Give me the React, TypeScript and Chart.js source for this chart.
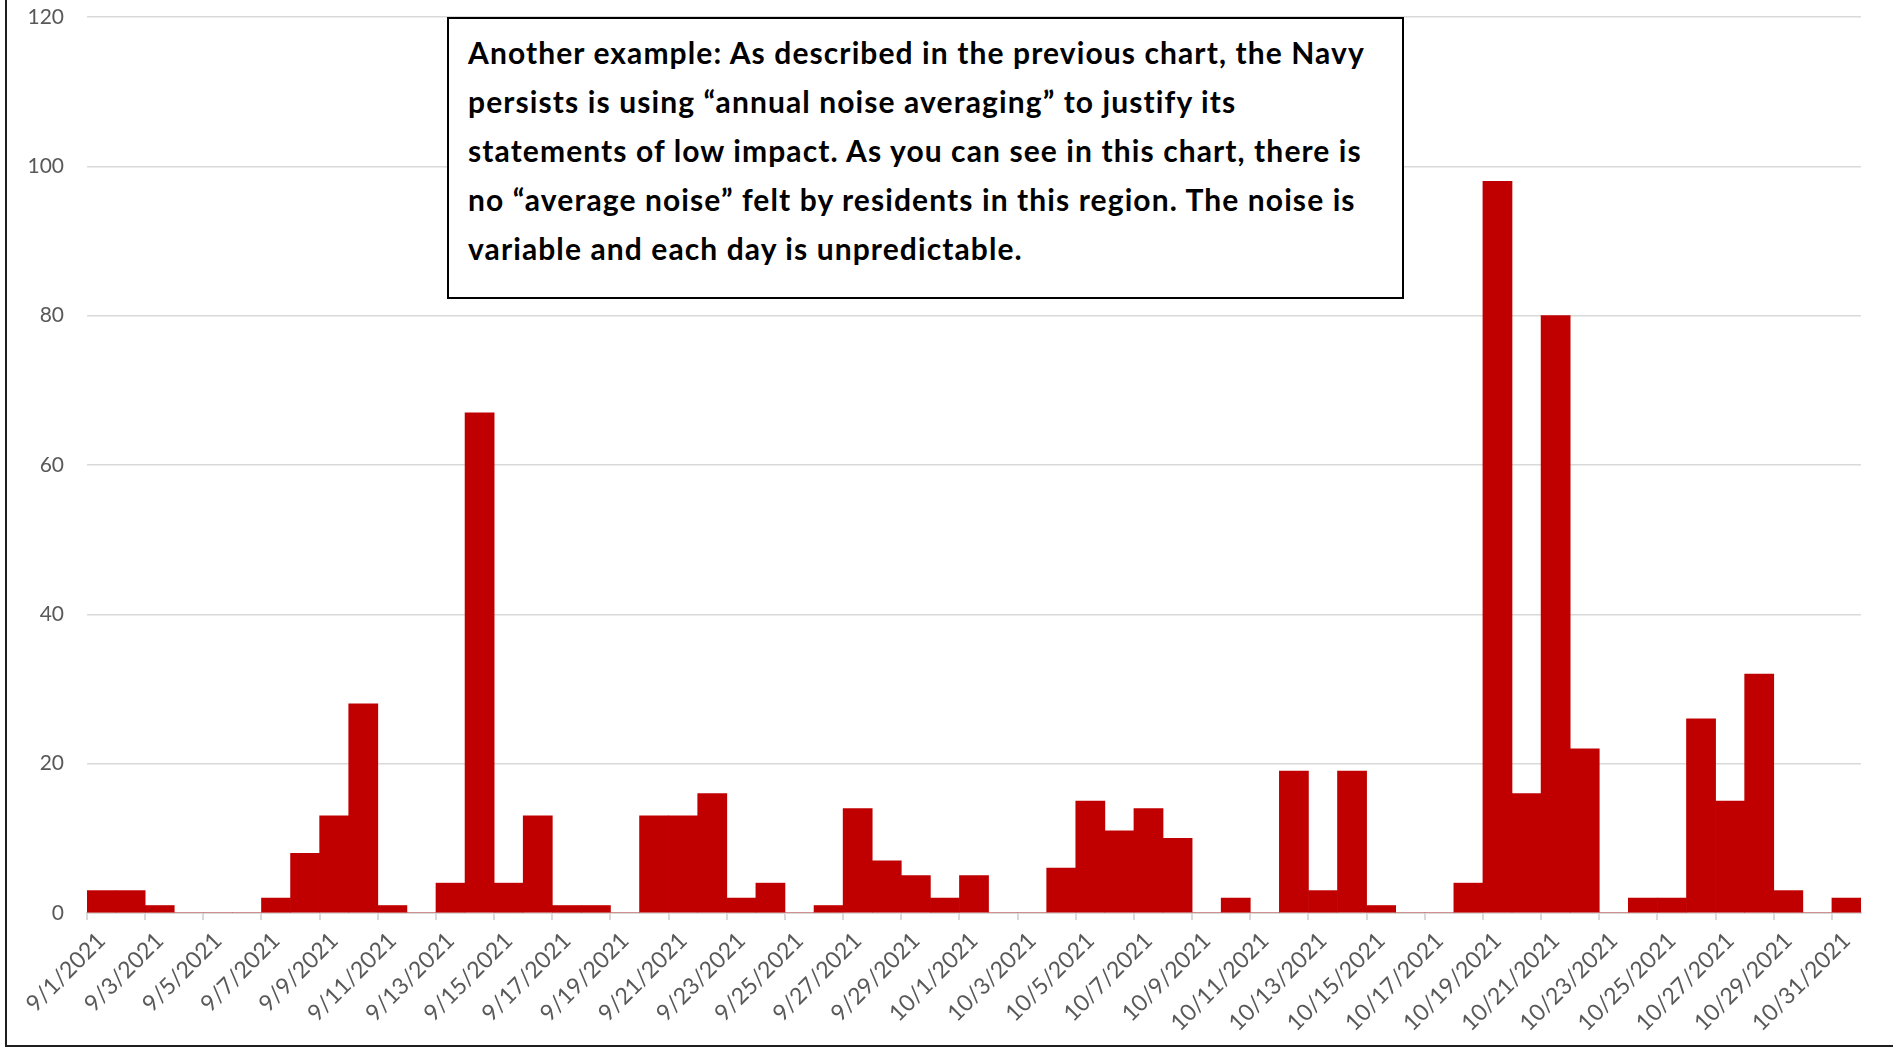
import React, { useEffect, useRef } from "react";
import { Chart, registerables } from "chart.js";

Chart.register(...registerables);

const dateLabels: string[] = [
  "9/1/2021", "9/2/2021", "9/3/2021", "9/4/2021", "9/5/2021", "9/6/2021", "9/7/2021", "9/8/2021",
  "9/9/2021", "9/10/2021", "9/11/2021", "9/12/2021", "9/13/2021", "9/14/2021", "9/15/2021", "9/16/2021",
  "9/17/2021", "9/18/2021", "9/19/2021", "9/20/2021", "9/21/2021", "9/22/2021", "9/23/2021", "9/24/2021",
  "9/25/2021", "9/26/2021", "9/27/2021", "9/28/2021", "9/29/2021", "9/30/2021",
  "10/1/2021", "10/2/2021", "10/3/2021", "10/4/2021", "10/5/2021", "10/6/2021", "10/7/2021", "10/8/2021",
  "10/9/2021", "10/10/2021", "10/11/2021", "10/12/2021", "10/13/2021", "10/14/2021", "10/15/2021", "10/16/2021",
  "10/17/2021", "10/18/2021", "10/19/2021", "10/20/2021", "10/21/2021", "10/22/2021", "10/23/2021", "10/24/2021",
  "10/25/2021", "10/26/2021", "10/27/2021", "10/28/2021", "10/29/2021", "10/30/2021", "10/31/2021",
];

const septemberCounts: number[] = [
  3, 3, 1, 0, 0, 0, 2, 8, 13, 28, 1, 0, 4, 67, 4, 13, 1, 1, 0, 13, 13, 16, 2, 4, 0, 1, 14, 7, 5, 2,
];

const octoberCounts: number[] = [
  5, 0, 0, 6, 15, 11, 14, 10, 0, 2, 0, 19, 3, 19, 1, 0, 0, 4, 98, 16, 80, 22, 0, 2, 2, 26, 15, 32, 3, 0, 2,
];

const yTickValues: number[] = [0, 20, 40, 60, 80, 100, 120];

const noteLines: string[] = [
  "Another example: As described in the previous chart, the Navy",
  "persists is using \u201cannual noise averaging\u201d to justify its",
  "statements of low impact. As you can see in this chart, there is",
  "no \u201caverage noise\u201d felt by residents in this region. The noise is",
  "variable and each day is unpredictable.",
];

const W = 1893;
const H = 1047;
const PLOT_LEFT = 87;
const PLOT_RIGHT = 1861;
const PLOT_TOP = 17;
const PLOT_BOTTOM = 913;

export default function App() {
  const canvasRef = useRef<HTMLCanvasElement | null>(null);

  useEffect(() => {
    const canvas = canvasRef.current;
    if (!canvas) return;
    const values = [...septemberCounts, ...octoberCounts];
    const chart = new Chart(canvas, {
      type: "bar",
      data: {
        labels: dateLabels,
        datasets: [
          {
            data: values,
            backgroundColor: "#C00000",
            borderWidth: 0,
            barPercentage: 1,
            categoryPercentage: 1,
          },
        ],
      },
      options: {
        responsive: false,
        animation: false,
        layout: { padding: { left: 0, top: PLOT_TOP, right: W - PLOT_RIGHT, bottom: 0 } },
        plugins: { legend: { display: false }, tooltip: { enabled: false } },
        scales: {
          x: {
            offset: true,
            grid: {
              display: true,
              offset: true,
              drawOnChartArea: false,
              drawTicks: true,
              tickLength: 7,
              color: (ctx: any) => (ctx.index % 2 === 0 && ctx.index < dateLabels.length ? "#d9d9d9" : "rgba(0,0,0,0)"),
              lineWidth: 2,
            },
            border: { display: true, color: "#d9d9d9", width: 2 },
            ticks: {
              autoSkip: false,
              maxRotation: 45,
              minRotation: 45,
              padding: 7,
              color: "#595959",
              font: { family: "Lato", size: 23 },
              callback: (_v: any, i: number) => (i % 2 === 0 ? dateLabels[i] : ""),
            },
            afterFit: (scale: any) => {
              scale.height = H - PLOT_BOTTOM;
              scale.paddingLeft = 0;
              scale.paddingRight = 0;
            },
          },
          y: {
            min: 0,
            max: 120,
            afterBuildTicks: (scale: any) => {
              scale.ticks = yTickValues.map((v) => ({ value: v }));
            },
            grid: { color: "#d9d9d9", lineWidth: 1.5, drawTicks: false },
            border: { display: false },
            ticks: {
              padding: 23,
              color: "#595959",
              font: { family: "Lato", size: 21 },
            },
            afterFit: (scale: any) => {
              scale.width = PLOT_LEFT;
              scale.paddingTop = 0;
              scale.paddingBottom = 0;
            },
          },
        },
      },
    });
    return () => chart.destroy();
  }, []);

  return (
    <div
      style={{
        position: "fixed",
        left: 0,
        top: 0,
        width: W,
        height: H,
        background: "#ffffff",
        overflow: "hidden",
      }}
    >
      <canvas ref={canvasRef} width={W} height={H} style={{ position: "absolute", left: 0, top: 0, width: W, height: H }} />
      <div
        style={{
          position: "absolute",
          left: 5,
          top: 0,
          width: W - 5,
          height: H - 2,
          borderLeft: "2px solid #1f1f1f",
          borderBottom: "2px solid #1f1f1f",
          pointerEvents: "none",
        }}
      />
      <div
        style={{
          position: "absolute",
          left: 447,
          top: 17,
          width: 957,
          height: 282,
          boxSizing: "border-box",
          border: "2px solid #000000",
          background: "#ffffff",
          paddingLeft: 19,
          paddingTop: 9,
          fontFamily: "Lato, sans-serif",
          fontWeight: 700,
          fontSize: 30,
          letterSpacing: "1.1px",
          lineHeight: "49px",
          color: "#000000",
          whiteSpace: "pre",
        }}
      >
        {noteLines.map((line, i) => (
          <div key={i}>{line}</div>
        ))}
      </div>
    </div>
  );
}
